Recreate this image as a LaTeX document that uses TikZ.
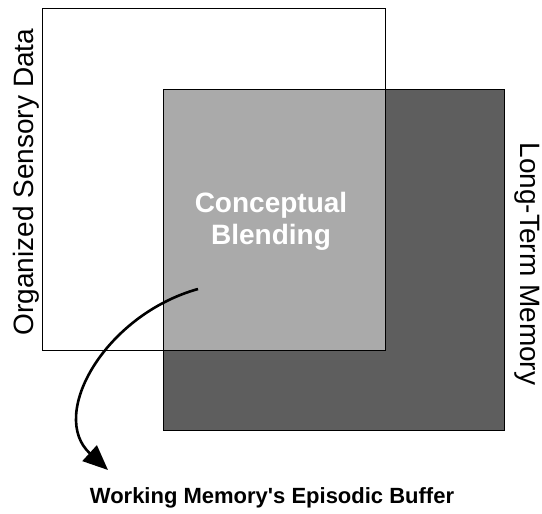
\documentclass[tikz,border=0pt]{standalone}
\usepackage{fontspec}
\setmainfont{Liberation Sans}
\usetikzlibrary{arrows.meta}
\definecolor{ltmgray}{HTML}{5E5E5E}
\definecolor{blendgray}{HTML}{AAAAAA}
\tikzset{
  box/.style={draw=black, line width=1pt},
  sidelabel/.style={font=\fontsize{28}{32}\selectfont, inner sep=0pt, anchor=base},
  centerlabel/.style={font=\bfseries\fontsize{28}{32}\selectfont, text=white, align=center, inner sep=0pt},
  bottomlabel/.style={font=\bfseries\fontsize{22}{26}\selectfont, inner sep=0pt, anchor=base},
  flow/.style={line width=2.6pt, -{Triangle[length=25pt, width=21pt]}}
}
\begin{document}
\begin{tikzpicture}[x=1pt, y=-1pt]
  \useasboundingbox (0,0) rectangle (542,514);
  % sensory data frame
  \draw[box, fill=white] (42,8) rectangle (385,350);
  % long-term memory block
  \draw[box, fill=ltmgray] (163,89) rectangle (504,430);
  % overlap: conceptual blending
  \draw[box, fill=blendgray] (163,89) rectangle (385,350);

  \node[sidelabel, rotate=90] (sens) at (34,182) {Organized Sensory Data};
  \node[sidelabel, rotate=-90] (ltm) at (520,264) {Long-Term Memory};
  \node[centerlabel] (blend) at (271,221) {Conceptual\\Blending};
  \node[bottomlabel] (wm) at (272,503) {Working Memory\textquotesingle s Episodic Buffer};

  \coordinate (from) at (198,289);
  \coordinate (to) at (108,470);
  \draw[flow] (from) .. controls (105,315) and (48,415) .. (to);
\end{tikzpicture}
\end{document}
